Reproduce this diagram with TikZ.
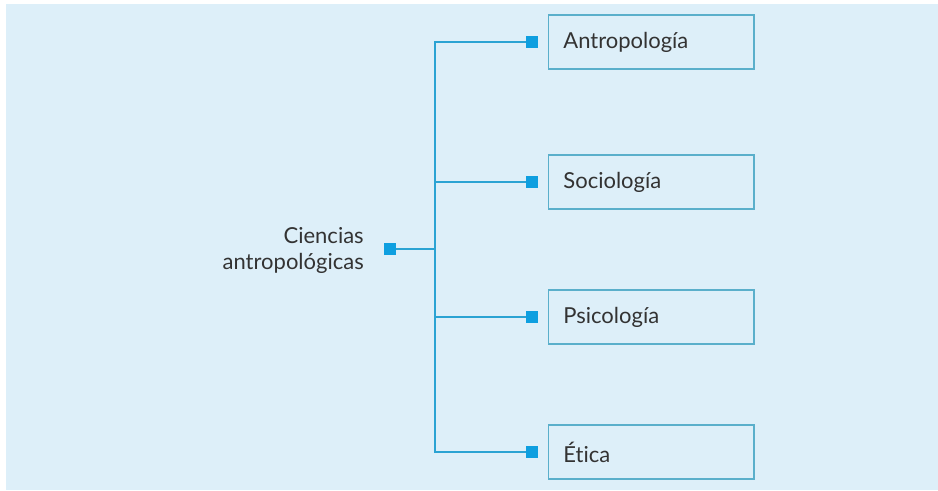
\documentclass[tikz,border=0pt]{standalone}
\usepackage{fontspec}
\setmainfont{Lato}[Ligatures=NoCommon]
\definecolor{fondo}{HTML}{DDEFF9}
\definecolor{linea}{HTML}{2BA3D3}
\definecolor{cuadro}{HTML}{0E9FE0}
\definecolor{borde}{HTML}{5AAFCB}
\definecolor{texto}{HTML}{333333}
\begin{document}
\begin{tikzpicture}[x=0.75pt,y=0.75pt,yscale=-1,xscale=1,
	caja/.style={draw=borde,line width=1.1pt,anchor=west,text width=132pt,inner xsep=11pt,minimum height=40.5pt,align=left,font=\fontsize{16.5}{19.5}\selectfont,text=texto},
	punto/.style={fill=cuadro,minimum size=9pt,inner sep=0pt},
	conector/.style={draw=linea,line width=1.4pt}]
	%set diagram size: 938 x 490
	\useasboundingbox (0,0) rectangle (938,490);
	\fill[fondo] (6,4) rectangle (938,490);
	
	% Text Node
	\node (fuente) [anchor=east] [inner sep=0.75pt] [align=right,text=texto,font=\fontsize{16.5}{19.5}\selectfont] at (365,250) {Ciencias\\antropológicas};
	% Squares
	\node (p0) [punto] at (390,249) {};
	\node (p1) [punto] at (532,42) {};
	\node (p2) [punto] at (532,182) {};
	\node (p3) [punto] at (532,317) {};
	\node (p4) [punto] at (532,452) {};
	% Boxes
	\node (c1) [caja] at (548,42) {Antropología};
	\node (c2) [caja] at (548,182) {Sociología};
	\node (c3) [caja] at (548,317) {Psicología};
	\node (c4) [caja] at (548,452) {Ética};
	
	%Straight Lines
	\coordinate (eje) at (435,249);
	\draw[conector] (p0.east) -- (eje);
	\draw[conector] (p1.west) -| (eje) |- (p4.west);
	\draw[conector] (p2.west) -- (p2.west -| eje);
	\draw[conector] (p3.west) -- (p3.west -| eje);
	
\end{tikzpicture}
\end{document}
